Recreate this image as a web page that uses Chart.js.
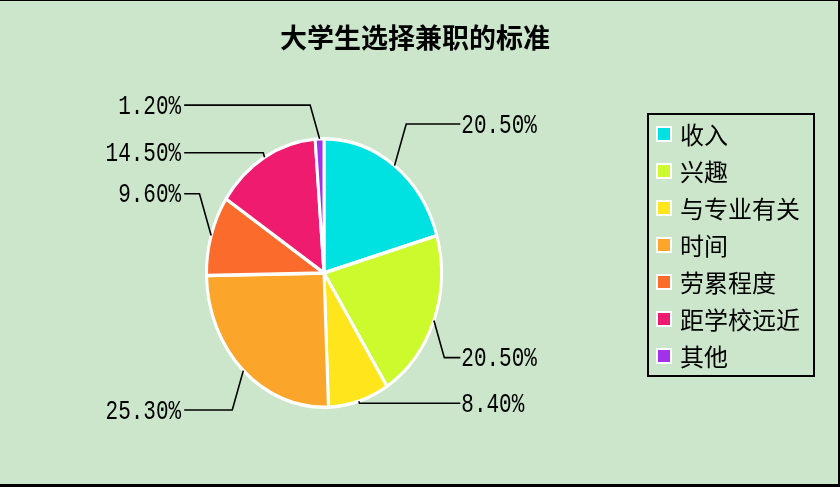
<!DOCTYPE html>
<html>
<head>
<meta charset="utf-8">
<script src="https://cdn.jsdelivr.net/npm/chart.js@4.4.1/dist/chart.umd.min.js"></script>
<style>
  html, body { margin: 0; padding: 0; background: #cce6cc; }
  #wrap { position: relative; width: 840px; height: 487px; }
</style>
</head>
<body>
<div id="wrap"><canvas id="pieChart"></canvas></div>
<script>
// ─── data ───────────────────────────────────────────────
const chartTitle = '大学生选择兼职的标准';
const categories = ['收入', '兴趣', '与专业有关', '时间', '劳累程度', '距学校远近', '其他'];
const shares = [20.5, 20.5, 8.4, 25.3, 9.6, 14.5, 1.2];
const sliceColors = ['#00e1e1', '#cdfa2d', '#ffe61c', '#fba62b', '#fb6b2b', '#ef1b6e', '#a232ea'];

// where each percentage label sits, in vertical radii from the centre (neg = above)
const labelRise = [-1.11, 0.63, 0.97, 1.02, -0.59, -0.895, -1.25];

// the original pie is drawn as an upright ellipse
const STRETCH = 136 / 119;

// ─── squash the pie into an ellipse ─────────────────────
const stretchPie = {
    id: 'stretchPie',
    beforeDatasetsDraw(chart) {
        const arc = chart.getDatasetMeta(0).data[0];
        const ctx = chart.ctx;
        ctx.save();
        ctx.translate(arc.x, arc.y);
        ctx.scale(1, STRETCH);
        ctx.translate(-arc.x, -arc.y);
    },
    afterDatasetsDraw(chart) {
        chart.ctx.restore();
    }
};

// ─── title, leader lines, legend box, frame ─────────────
const decorations = {
    id: 'decorations',
    afterDraw(chart) {
        const ctx = chart.ctx;
        const arcs = chart.getDatasetMeta(0).data;
        const ds = chart.data.datasets[0];

        ctx.save();

        // title
        ctx.fillStyle = '#000';
        ctx.font = 'bold 27px "Noto Sans CJK SC"';
        ctx.textAlign = 'center';
        ctx.textBaseline = 'middle';
        ctx.fillText(chartTitle, 415, 38);

        // percentage labels with leader lines
        ctx.strokeStyle = '#000';
        ctx.lineWidth = 1.6;
        ctx.font = '21px "Liberation Mono"';
        arcs.forEach((arc, i) => {
            const R = arc.outerRadius;
            const mid = (arc.startAngle + arc.endAngle) / 2;
            const ex = arc.x + Math.cos(mid) * R;
            const ey = arc.y + Math.sin(mid) * R * STRETCH;
            const side = Math.cos(mid) >= 0 ? 1 : -1;
            const ly = arc.y + labelRise[i] * R * STRETCH;
            const bx = ex + side * Math.abs(ly - ey) * 0.28;
            const tx = arc.x + side * R * (side > 0 ? 1.16 : 1.19);

            ctx.beginPath();
            ctx.moveTo(ex, ey);
            ctx.lineTo(bx, ly);
            ctx.lineTo(tx, ly);
            ctx.stroke();

            const text = ds.data[i].toFixed(2) + '%';
            ctx.save();
            ctx.translate(side > 0 ? tx + 1 : tx - 3, ly);
            ctx.scale(1, 1.32);
            ctx.textAlign = side > 0 ? 'left' : 'right';
            ctx.fillText(text, 0, 1);
            ctx.restore();
        });

        // legend
        const box = { x: 648, y: 114, w: 166, h: 262 };
        ctx.lineWidth = 2;
        ctx.strokeRect(box.x, box.y, box.w, box.h);
        ctx.font = '24px "Noto Sans CJK SC"';
        ctx.textAlign = 'left';
        chart.data.labels.forEach((lab, i) => {
            const cy = box.y + 20 + i * 37;
            ctx.fillStyle = '#fff';
            ctx.fillRect(box.x + 8, cy - 8, 16, 16);
            ctx.fillStyle = ds.backgroundColor[i];
            ctx.fillRect(box.x + 10, cy - 6, 12, 12);
            ctx.fillStyle = '#000';
            ctx.fillText(lab, box.x + 32, cy + 1);
        });

        // outer frame
        ctx.fillStyle = '#000';
        ctx.fillRect(0, 0, chart.width, 1);
        ctx.fillRect(chart.width - 2, 0, 2, chart.height);
        ctx.fillRect(0, chart.height - 3, chart.width, 3);

        ctx.restore();
    }
};

// ─── chart ──────────────────────────────────────────────
const ctx = document.getElementById('pieChart').getContext('2d');
const chart = new Chart(ctx, {
    type: 'pie',
    data: {
        labels: categories,
        datasets: [{
            data: shares,
            backgroundColor: sliceColors,
            borderColor: '#ffffff',
            borderWidth: 3,
            clip: false
        }]
    },
    options: {
        responsive: true,
        maintainAspectRatio: false,
        animation: false,
        events: [],
        layout: { padding: { left: 205, right: 397, top: 103, bottom: 44 } },
        plugins: {
            legend: { display: false },
            title: { display: false },
            tooltip: { enabled: false }
        }
    },
    plugins: [stretchPie, decorations]
});
</script>
</body>
</html>
